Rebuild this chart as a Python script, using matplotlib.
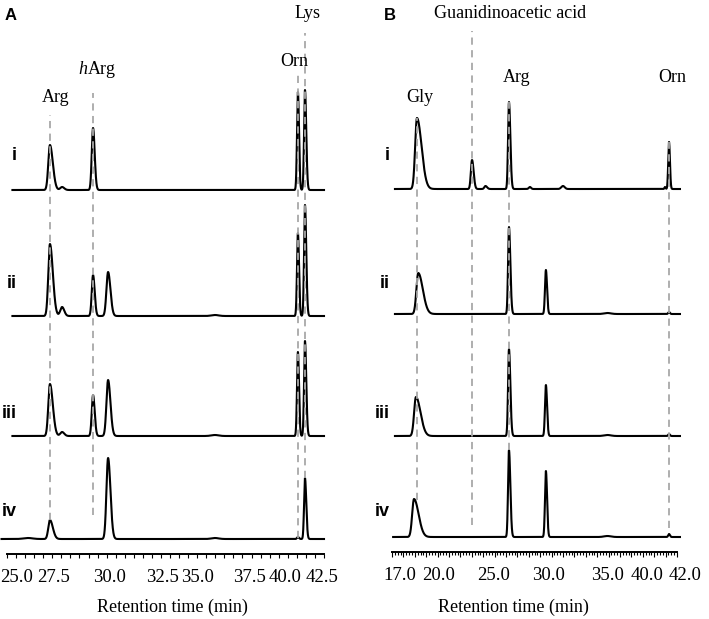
import numpy as np
import matplotlib
matplotlib.use("Agg")
import matplotlib.pyplot as plt
import matplotlib.transforms as mtransforms
from matplotlib.ticker import FixedLocator, MultipleLocator

plt.rcParams["mathtext.fontset"] = "custom"
plt.rcParams["mathtext.it"] = "Liberation Serif:italic"
plt.rcParams["mathtext.rm"] = "Liberation Serif"

# ---- panel A : retention times (min) of the peaks seen in the traces
A_RT = [26.16, 27.37, 28.04, 29.75, 30.58, 36.48, 41.06, 41.45]
# heights (a.u.) per trace  i, ii, iii, iv
A_H = [
    [0, 45, 3, 62, 0, 0, 98, 100],
    [0, 72, 9, 41, 44, 1, 83, 111],
    [0, 52, 4, 41, 56, 1, 84, 95],
    [1, 19, 0, 0, 81, 1, 2, 61],
]
A_SL = [0.25, 0.09, 0.10, 0.07, 0.09, 0.20, 0.05, 0.05]
A_SR = [0.25, 0.16, 0.12, 0.09, 0.13, 0.20, 0.06, 0.07]
A_TICKS = [25.0, 27.5, 30.0, 32.5, 35.0, 37.5, 40.0, 42.5]

# ---- panel B
B_RT = [19.2, 24.02, 25.2, 27.26, 29.1, 30.5, 32.0, 35.9, 40.95, 41.3]
B_H = [
    [71, 29, 3, 87, 2, 0, 3, 0, 2, 47],
    [41, 0, 0, 87, 0, 44, 0, 1, 0, 2],
    [39, 0, 0, 87, 0, 51, 0, 1, 0, 2],
    [38, 0, 0, 87, 0, 66, 0, 1, 0, 3],
]
B_GLY_RT = [19.19, 19.3, 19.1, 18.93]
B_SL = [0.16, 0.10, 0.10, 0.08, 0.10, 0.08, 0.15, 0.3, 0.05, 0.07]
B_SR = [0.40, 0.14, 0.14, 0.12, 0.10, 0.10, 0.15, 0.3, 0.05, 0.08]
B_TICKS = [17.0, 20.0, 25.0, 30.0, 35.0, 40.0, 42.0]

TRACES = ["i", "ii", "iii", "iv"]

# reference lines  (rt, y top, y bottom)
A_MARK = [(27.37, 439, 34), (29.75, 461, 39), (41.06, 479, 16), (41.45, 521, 76)]
B_MARK = [(19.2, 434, 52), (24.02, 521, 27), (27.26, 450, 102), (41.3, 410, 24)]

A_LABELS = [("Arg", 27.7, 457), ("$\\mathit{h}$Arg", 29.97, 485),
            ("Orn", 40.84, 493), ("Lys", 41.6, 540)]
B_LABELS = [("Guanidinoacetic acid", 27.35, 538), ("Arg", 27.96, 475),
            ("Gly", 19.46, 455), ("Orn", 41.56, 474)]

# small horizontal nudges (px) of the tick labels, as set in the original figure
A_NUDGE = [10, 1, 12, 20, 9, 16, 6, -2]
B_NUDGE = [8, 12, 10, 8, 10, -7, 8]


def bigauss(t, rt, h, sl, sr):
    s = np.where(t < rt, sl, sr)
    return h * np.exp(-0.5 * ((t - rt) / s) ** 2)


W, H = 709, 619
fig = plt.figure(figsize=(W / 100, H / 100), dpi=100)
serif = "Liberation Serif"


def setup_axis(ax, ymax, ticks, nudge):
    ax.set_ylim(0, ymax)
    for s in ["left", "right", "top"]:
        ax.spines[s].set_visible(False)
    ax.spines["bottom"].set_linewidth(1.4)
    ax.set_yticks([])
    ax.set_xticklabels([])
    ax.tick_params(axis="x", which="both", direction="out", width=0.8)
    trans = ax.get_xaxis_transform()
    for v, dx in zip(ticks, nudge):
        tr = mtransforms.offset_copy(trans, fig=fig, x=dx, y=-24, units="dots")
        ax.text(v, 0, "%.1f" % v, transform=tr, ha="center", va="center",
                fontsize=13.5, family=serif, clip_on=False)


# ---------------- panel A
axA = fig.add_axes([7 / W, 65 / H, 317 / W, 554 / H])
axA.set_xlim(25, 42.5)
a_base = [364, 238, 118, 15]
a_start = [25.3, 25.3, 25.3, 24.7]
for k in range(4):
    t = np.linspace(a_start[k], 42.5, 5000)
    y = np.zeros_like(t)
    for j in range(len(A_RT)):
        y += bigauss(t, A_RT[j], A_H[k][j], A_SL[j], A_SR[j])
    axA.plot(t, a_base[k] + y, color="black", lw=1.5, clip_on=False)
for rt, y0, y1 in A_MARK:
    axA.plot([rt, rt], [y1, y0], color="#a8a8a8", lw=1.3, ls=(0, (4, 3)), zorder=3)
for txt, x, y in A_LABELS:
    axA.text(x, y, txt, ha="center", va="center", fontsize=13, family=serif)
axA.xaxis.set_major_locator(FixedLocator(A_TICKS))
axA.xaxis.set_minor_locator(MultipleLocator(0.5))
setup_axis(axA, 554, A_TICKS, A_NUDGE)
axA.tick_params(axis="x", which="both", length=3)

# ---------------- panel B
axB = fig.add_axes([392 / W, 67 / H, 285 / W, 552 / H])
axB.set_xlim(17, 42)
b_base = [363, 238, 116, 15]
b_start = [17.26, 17.26, 17.26, 17.1]
for k in range(4):
    t = np.linspace(b_start[k], 42.26, 5000)
    y = np.zeros_like(t)
    rts = list(B_RT)
    rts[0] = B_GLY_RT[k]
    for j in range(len(rts)):
        y += bigauss(t, rts[j], B_H[k][j], B_SL[j], B_SR[j])
    axB.plot(t, b_base[k] + y, color="black", lw=1.5, clip_on=False)
for rt, y0, y1 in B_MARK:
    axB.plot([rt, rt], [y1, y0], color="#a8a8a8", lw=1.3, ls=(0, (4, 3)), zorder=3)
for txt, x, y in B_LABELS:
    axB.text(x, y, txt, ha="center", va="center", fontsize=13, family=serif)
axB.xaxis.set_major_locator(FixedLocator(np.arange(17, 43, 1)))
axB.xaxis.set_minor_locator(MultipleLocator(0.25))
setup_axis(axB, 552, B_TICKS, B_NUDGE)
axB.tick_params(axis="x", which="major", length=3.5)
axB.tick_params(axis="x", which="minor", length=2)

# axis titles
fig.text(172 / W, 1 - 607 / H, "Retention time (min)", fontsize=13, family=serif,
         ha="center", va="center")
fig.text(513 / W, 1 - 607 / H, "Retention time (min)", fontsize=13, family=serif,
         ha="center", va="center")

# panel letters and trace numerals
fig.text(5 / W, 1 - 15 / H, "A", fontsize=12, fontweight="bold",
         family="Liberation Sans", va="center", ha="left")
fig.text(384 / W, 1 - 15 / H, "B", fontsize=12, fontweight="bold",
         family="Liberation Sans", va="center", ha="left")
num_y = [155, 283, 413, 512]
for k, lab in enumerate(TRACES):
    fig.text(17 / W, 1 - num_y[k] / H, lab, fontsize=13, fontweight="bold",
             family="Liberation Sans", va="center", ha="right")
    fig.text(390 / W, 1 - num_y[k] / H, lab, fontsize=13, fontweight="bold",
             family="Liberation Sans", va="center", ha="right")

fig.savefig("out.png", dpi=100)
